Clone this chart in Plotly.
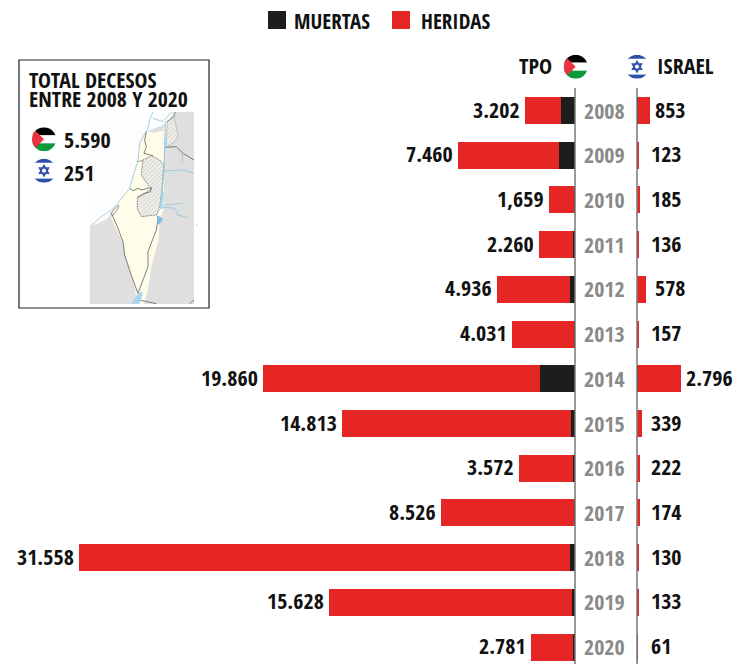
import base64
import plotly.graph_objects as go

years = [2008, 2009, 2010, 2011, 2012, 2013, 2014, 2015, 2016, 2017, 2018, 2019, 2020]
tpo_total = [3202, 7460, 1659, 2260, 4936, 4031, 19860, 14813, 3572, 8526, 31558, 15628, 2781]
tpo_dead = [887, 1034, 95, 124, 300, 39, 2230, 240, 109, 77, 299, 190, 100]
isr_total = [853, 123, 185, 136, 578, 157, 2796, 339, 222, 174, 130, 133, 61]
isr_dead = [36, 9, 9, 11, 7, 6, 88, 28, 13, 15, 14, 10, 5]
tpo_labels = ["3.202", "7.460", "1,659", "2.260", "4.936", "4.031", "19.860", "14.813", "3.572", "8.526", "31.558", "15.628", "2.781"]
isr_labels = ["853", "123", "185", "136", "578", "157", "2.796", "339", "222", "174", "130", "133", "61"]

W, H = 736, 664
FONT = "Open Sans Condensed"
RED, BLACK = "#e62525", "#1d1d1b"
AXIS_L, AXIS_R = 575, 637
PX = 496 / 31558


def c4(*pts):
    return " ".join(f"{264 + x},{330 + y}" for x, y in pts)


def c5(*pts):
    return " ".join(f"{264 + x},{615 + y}" for x, y in pts)


def poly(pts, fill, stroke="none", sw=2.5, dash=""):
    d = f' stroke-dasharray="{dash}"' if dash else ""
    return f'<polygon points="{pts}" fill="{fill}" stroke="{stroke}" stroke-width="{sw}"{d} stroke-linejoin="round"/>'


def line(pts, stroke, sw=2.5, dash=""):
    d = f' stroke-dasharray="{dash}"' if dash else ""
    return f'<polyline points="{pts}" fill="none" stroke="{stroke}" stroke-width="{sw}"{d} stroke-linejoin="round"/>'


pal = lambda cx, cy, r=36: f'''<clipPath id="c{cx}"><circle cx="{cx}" cy="{cy}" r="{r}"/></clipPath><g clip-path="url(#c{cx})">
<rect x="{cx-r}" y="{cy-r}" width="{2*r}" height="{2*r/3}" fill="#000"/><rect x="{cx-r}" y="{cy-r/3}" width="{2*r}" height="{2*r/3}" fill="#fff"/>
<rect x="{cx-r}" y="{cy+r/3}" width="{2*r}" height="{2*r/3}" fill="#0a9a3c"/><path d="M{cx-r} {cy-r}L{cx} {cy}L{cx-r} {cy+r}Z" fill="#ea3340"/></g>'''
isr = lambda cx, cy, r=36: f'''<clipPath id="d{cx}"><circle cx="{cx}" cy="{cy}" r="{r}"/></clipPath><g clip-path="url(#d{cx})">
<rect x="{cx-r}" y="{cy-r}" width="{2*r}" height="{2*r*.17}" fill="#2f4fa8"/><rect x="{cx-r}" y="{cy+r*.66}" width="{2*r}" height="{2*r*.17}" fill="#2f4fa8"/>
<path d="M{cx} {cy-r*.44}L{cx+r*.38} {cy+r*.22}H{cx-r*.38}ZM{cx} {cy+r*.44}L{cx+r*.38} {cy-r*.22}H{cx-r*.38}Z" fill="none" stroke="#2f4fa8" stroke-width="{r*.12}"/></g>'''

YEL, GREYL, BLUE = "#fffdea", "#666", "#8fc4e4"
parts = [
    '<rect x="270" y="336" width="312" height="576" fill="#dfdfdf"/>',
    # sea and Lebanon
    poly(c4((6, 6), (255, 6), (240, 38), (175, 65), (155, 100), (150, 150), (125, 235), (75, 295), (60, 325), (30, 340), (6, 350)), "#fdfdfd"),
    # Israel north + coast + Negev
    poly(c4((175, 65), (198, 68), (225, 62), (232, 38), (238, 40), (232, 90), (228, 130), (226, 300), (215, 330), (212, 390), (190, 470), (180, 540), (165, 590), (150, 600), (140, 530), (115, 450), (105, 400), (70, 325), (75, 295), (125, 235), (150, 150), (155, 100)), YEL),
    # Golan
    poly(c4((238, 38), (258, 20), (270, 75), (262, 95), (232, 112), (236, 80)), "url(#h)", "#888", 2, "4 3"),
    # West Bank
    poly(c4((165, 150), (190, 137), (215, 150), (227, 165), (222, 240), (214, 297), (205, 315), (160, 320), (148, 297), (148, 265), (170, 250), (190, 235), (180, 225), (160, 195)), "url(#h)", "#666", 2.5, "5 3"),
    # Gaza
    poly(c5((70, 25), (78, 12), (92, 0), (92, 8), (80, 25), (74, 32)), "url(#h)", "#888", 2),
    # inner lines
    line(c4((175, 65), (170, 90), (175, 110), (168, 130), (195, 137)), GREYL),
    line(c4((148, 155), (165, 152)), GREYL, 2),
    line(c4((125, 235), (135, 242), (150, 235), (160, 240), (190, 232), (188, 245), (165, 252), (148, 262)), GREYL),
    # Negev borders
    line(c5((70, 25), (90, 70), (105, 110), (110, 150), (128, 205), (146, 255), (150, 265)), GREYL),
    line(c5((150, 265), (165, 225), (180, 185), (180, 140), (205, 75), (210, 40)), GREYL),
    # Grey land borders
    line(c4((232, 112), (265, 110), (285, 130), (318, 150)), GREYL),
    line(c4((232, 38), (258, 20), (262, 6)), GREYL, 2),
    line(c5((155, 285), (205, 296)), GREYL),
    line(c5((305, 296), (318, 285)), GREYL),
    # water
    line(c4((6, 350)) + " " + c5((40, 35), (70, 15), (85, 0)) + " " + c4((125, 235), (150, 150), (155, 100), (175, 62)), BLUE),
    line(c4((195, 6), (185, 30), (178, 62)), BLUE),
    line(c4((195, 25), (225, 35), (250, 6)), BLUE),
    line(c4((232, 40), (230, 100), (228, 180), (222, 240), (218, 297)), BLUE, 3),
    line(c4((228, 185), (250, 182), (285, 180), (318, 190)), BLUE),
    line(c4((283, 130), (283, 160)), BLUE),
    line(c4((228, 285), (285, 280)), BLUE),
    line(c5((215, 5), (260, 10), (270, 30), (300, 38)), BLUE),
    poly(c5((130, 296), (150, 265), (165, 260), (155, 296)), "#a7d5ef"),
    poly(c4((232, 88), (238, 100), (233, 118), (226, 100)), "#a7d5ef"),
    poly(c5((205, 30), (222, 38), (224, 46), (212, 60), (208, 50)), "#7fbfe6"),
    poly(c4((222, 240), (228, 250), (222, 297), (215, 297)), "#a7d5ef"),
    f'<circle cx="{264 + 326}" cy="{615 + 60}" r="2" fill="{BLUE}"/>',
]
map_svg = "".join(parts)

# viewBox matches the page at 3x
svg = f'''<svg xmlns="http://www.w3.org/2000/svg" width="{W}" height="{H}" viewBox="0 0 {W*3} {H*3}">
<defs><pattern id="h" width="9" height="9" patternUnits="userSpaceOnUse" patternTransform="rotate(-45)"><rect width="9" height="9" fill="#f2f2ee"/><rect width="9" height="4" fill="#d8d8d4"/></pattern>
<clipPath id="mp"><rect x="270" y="336" width="326" height="576"/></clipPath></defs>
<g clip-path="url(#mp)">{map_svg}</g>
{pal(132, 418)}{isr(132, 512)}{pal(1727, 200)}{isr(1911, 200)}</svg>'''
uri = "data:image/svg+xml;base64," + base64.b64encode(svg.encode()).decode()

fig = go.Figure()
tpo_inj = [t - d for t, d in zip(tpo_total, tpo_dead)]
isr_inj = [t - d for t, d in zip(isr_total, isr_dead)]
for name, c, xv in [("MUERTAS", BLACK, tpo_dead), ("HERIDAS", RED, tpo_inj)]:
    fig.add_bar(y=years, x=xv, orientation="h", name=name, marker=dict(color=c, line_width=0), xaxis="x", yaxis="y", showlegend=False)
for name, c, xv in [("MUERTAS", BLACK, isr_dead), ("HERIDAS", RED, isr_inj)]:
    fig.add_bar(y=years, x=xv, orientation="h", name=name, marker=dict(color=c, line_width=0), xaxis="x2", yaxis="y", showlegend=False)

ann = []
tfont = dict(family=FONT, size=22, color="#111")
for y, t, l in zip(years, tpo_total, tpo_labels):
    ann.append(dict(x=t, y=y, xref="x", yref="y", text=f"<b>{l}</b>", showarrow=False, xanchor="right", xshift=-5, yshift=2, font=tfont, borderpad=0, borderwidth=0))
for y, t, l in zip(years, isr_total, isr_labels):
    px = t * PX
    shift = max(14 - px, 5) if t < 500 or t > 600 else 9
    ann.append(dict(x=t, y=y, xref="x2", yref="y", text=f"<b>{l}</b>", showarrow=False, xanchor="left", xshift=shift, yshift=2, font=tfont, borderpad=0, borderwidth=0))
for y in years:
    ann.append(dict(x=604 / W, y=y, xref="paper", yref="y", text=f"<b>{y}</b>", showarrow=False, xanchor="center", yshift=1,
                    font=dict(family=FONT, size=22, color="#8a8a8a")))


def paper(text, x, y, size=21, anchor="left"):
    ann.append(dict(x=x / W, y=1 - y / H, xref="paper", yref="paper", text=f"<b>{text}</b>", showarrow=False, xanchor=anchor, yanchor="middle",
                    font=dict(family=FONT, size=size, color="#111"), align="left", borderpad=0))


paper("MUERTAS", 293, 21)
paper("HERIDAS", 420, 21)
paper("TPO", 553, 65, 22, anchor="right")
paper("ISRAEL", 656, 65, 22)
paper("TOTAL DECESOS", 28, 79, 21.7)
paper("ENTRE 2008 Y 2020", 28, 99, 21.7)
paper("5.590", 63, 139, 22)
paper("251", 63, 172, 22)

sh = [
    dict(type="rect", xref="paper", yref="paper", x0=268 / W, x1=286 / W, y0=1 - 29 / H, y1=1 - 11 / H, fillcolor=BLACK, line_width=0),
    dict(type="rect", xref="paper", yref="paper", x0=392 / W, x1=410 / W, y0=1 - 29 / H, y1=1 - 11 / H, fillcolor=RED, line_width=0),
    dict(type="rect", xref="paper", yref="paper", x0=19 / W, x1=209 / W, y0=1 - 308 / H, y1=1 - 60 / H, line=dict(color="#222", width=1.2), fillcolor="rgba(0,0,0,0)", layer="below"),
    dict(type="line", xref="paper", yref="paper", x0=AXIS_L / W, x1=AXIS_L / W, y0=0, y1=1 - 88 / H, line=dict(color="#777", width=1.5)),
    dict(type="line", xref="paper", yref="paper", x0=AXIS_R / W, x1=AXIS_R / W, y0=0, y1=1 - 88 / H, line=dict(color="#777", width=1.5)),
]

step = 44.72
fig.update_layout(
    width=W, height=H, margin=dict(l=0, r=0, t=0, b=0), autosize=False,
    paper_bgcolor="white", plot_bgcolor="rgba(0,0,0,0)", barmode="stack", bargap=1 - 27 / step,
    font=dict(family=FONT),
    xaxis=dict(domain=[0, AXIS_L / W], range=[AXIS_L / PX, 0], visible=False, fixedrange=True),
    xaxis2=dict(domain=[AXIS_R / W, 1], range=[0, (W - AXIS_R) / PX], visible=False, fixedrange=True, anchor="y"),
    yaxis=dict(domain=[0, 1], range=[2008 + (H - 110.5) / step, 2008 - 110.5 / step], visible=False, fixedrange=True),
    annotations=ann, shapes=sh,
    images=[dict(source=uri, xref="paper", yref="paper", x=0, y=1, sizex=1, sizey=1, xanchor="left", yanchor="top", sizing="stretch", layer="above")],
)
fig.write_html("out.html", config=dict(displayModeBar=False),
               post_script="document.body.style.margin='0';")
